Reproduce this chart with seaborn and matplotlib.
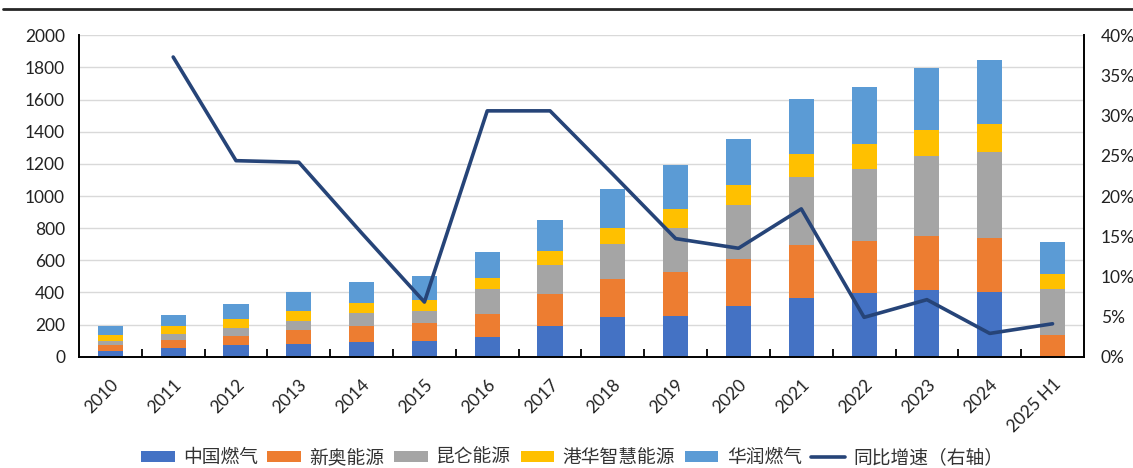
import numpy as np
import pandas as pd
import matplotlib
matplotlib.use('Agg')
import matplotlib.pyplot as plt
import seaborn as sns
from matplotlib.patches import Patch
from matplotlib.lines import Line2D

# 城燃企业接驳/销气数据（读图估算）
years = ['2010', '2011', '2012', '2013', '2014', '2015', '2016', '2017',
         '2018', '2019', '2020', '2021', '2022', '2023', '2024', '2025 H1']
zhongguo = [37, 56, 71, 81, 91, 100, 124, 193, 247, 255, 316, 367, 395, 415, 401, 0]
xinao = [36, 48, 60, 85, 102, 112, 144, 195, 235, 272, 290, 330, 327, 338, 338, 133]
kunlun = [27, 39, 50, 58, 77, 74, 153, 183, 220, 274, 338, 420, 444, 494, 537, 288]
ganghua = [37, 48, 56, 62, 66, 65, 71, 87, 99, 116, 125, 145, 158, 162, 172, 92]
huarun = [54, 69, 89, 119, 129, 151, 160, 193, 241, 276, 284, 340, 353, 390, 399, 203]
growth = [np.nan, 37.3, 24.4, 24.2, 15.4, 6.8, 30.6, 30.6, 22.7, 14.7, 13.5,
          18.4, 4.9, 7.1, 2.9, 4.1]

names = ['中国燃气', '新奥能源', '昆仑能源', '港华智慧能源', '华润燃气']
colors = ['#4472C4', '#ED7D31', '#A5A5A5', '#FFC000', '#5B9BD5']
line_color = '#264478'

sns.set_theme(style='white')
plt.rcParams['font.family'] = ['Lato', 'Noto Sans CJK SC', 'DejaVu Sans']

df = pd.DataFrame({'year': years, 'pos': np.arange(len(years)), 'growth': growth})
layers = np.array([zhongguo, xinao, kunlun, ganghua, huarun])
cum = np.cumsum(layers, axis=0)

fig = plt.figure(figsize=(11.33, 4.68), dpi=100)
ax = fig.add_axes([0.0697, 0.2378, 0.887, 0.6867])

# stacked bars: draw cumulative totals from top layer down
for i in range(4, -1, -1):
    sns.barplot(x=years, y=cum[i], color=colors[i], width=0.4, saturation=1,
                linewidth=0, ax=ax)

ax.set_ylim(0, 2000)
ax.set_xlim(-0.5, 15.5)
ax.set_yticks(np.arange(0, 2001, 200))
ax.yaxis.grid(True, color='#d9d9d9', lw=1)
ax.set_axisbelow(True)
ax.set_xlabel('')
ax.set_ylabel('')
ax.set_xticks(range(len(years)))
ax.set_xticklabels(years, rotation=45, ha='right', rotation_mode='anchor',
                   fontsize=12.5, color='#222222')
ax.set_xticks(np.arange(0.5, 15.5, 1), minor=True)
ax.tick_params(axis='x', which='major', length=0, pad=14)
ax.tick_params(axis='x', which='minor', direction='in', length=6, width=1.3,
               color='black', bottom=True)
ax.tick_params(axis='y', length=0, pad=10, labelsize=12.5, labelcolor='#222222')
for s in ['left', 'bottom']:
    ax.spines[s].set_color('black')
    ax.spines[s].set_linewidth(1.4)
ax.spines['top'].set_visible(False)
ax.spines['right'].set_visible(False)

ax2 = ax.twinx()
sns.lineplot(data=df, x='pos', y='growth', color=line_color, lw=2.6, ax=ax2)
ax2.set_ylim(0, 40)
ax2.set_xlim(-0.5, 15.5)
ax2.set_yticks(np.arange(0, 41, 5))
ax2.set_yticklabels([f'{v}%' for v in range(0, 41, 5)])
ax2.tick_params(axis='y', length=0, pad=12, labelsize=12.5, labelcolor='#222222')
ax2.set_ylabel('')
ax2.set_xlabel('')
for s in ['left', 'top', 'bottom']:
    ax2.spines[s].set_visible(False)
ax2.spines['right'].set_color('black')
ax2.spines['right'].set_linewidth(1.4)

handles = [Patch(facecolor=c, edgecolor='none') for c in colors]
handles.append(Line2D([], [], color=line_color, lw=2.6))
labels = names + ['同比增速（右轴）']
fig.legend(handles, labels, loc='center', bbox_to_anchor=(0.505, 0.023),
           ncol=6, frameon=False, fontsize=13.5, handlelength=1.8,
           handleheight=0.45, handletextpad=0.45, columnspacing=0.5,
           labelcolor='#333333')

# top rule line
fig.add_artist(Line2D([0.003, 1.0], [1 - 9 / 468] * 2, color='#262626', lw=2))

fig.savefig('out.png', dpi=100)
